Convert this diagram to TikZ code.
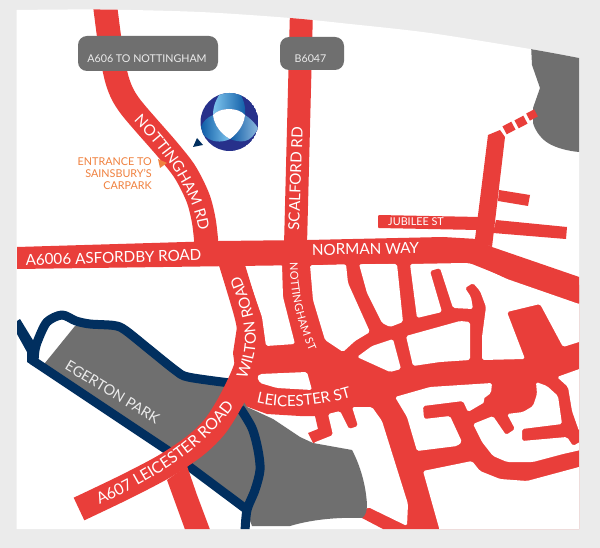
\documentclass[tikz,border=0pt]{standalone}
\usepackage{fontspec}
\setmainfont{Lato}
\usetikzlibrary{decorations.text}
\definecolor{roadred}{HTML}{E93E3A}
\definecolor{parkgrey}{HTML}{6F6F6F}
\definecolor{pagegrey}{HTML}{EBEBEB}
\definecolor{navyline}{HTML}{012F5F}
\definecolor{ringblue}{HTML}{27318B}
\definecolor{entrance}{HTML}{F0813F}
\definecolor{lobedark}{HTML}{0F5CA6}
\definecolor{lobelight}{HTML}{7FC6EE}
\definecolor{lobemid}{HTML}{8DB9DE}
\newcommand{\fsz}[1]{\fontsize{#1}{#1}\selectfont}
\newcommand{\rdfont}{\fsz{15.2}}
\newcommand{\lrfont}{\fsz{15.7}}
\newcommand{\stfont}{\fsz{11}}
\tikzset{
  redfill/.style={fill=roadred},
  hole/.style={fill=white,rounded corners=1.8pt},
  roadstroke/.style={draw=roadred,line width=#1,line join=round},
  navystroke/.style={draw=navyline,line width=9pt,line join=round},
  signbox/.style={fill=parkgrey,rounded corners=9pt},
  signtext/.style={text=pagegrey,font=\fsz{10.7},inner sep=0pt},
  maptext/.style={text=white,font=\rdfont,inner sep=0pt},
  curvetext/.style={decorate,decoration={text along path,text align=center,text color=white,text={#1}}}
}
\begin{document}
\begin{tikzpicture}[x=1pt,y=-1pt]
\useasboundingbox (0,0) rectangle (600,548);
\fill[pagegrey] (0,0) rectangle (600,548);
\begin{scope}
\clip plot[smooth] coordinates {(16.5,10) (100,9.5) (200,12) (290,18) (350,24) (430,33) (530,49) (579,58)} -- (579,529) -- (16.5,529) -- cycle;
\fill[white] (0,0) rectangle (600,548);
% north-east park
\fill[parkgrey] (531,45) -- (532,65) -- (540,88) -- (533,108) -- (533,123) .. controls (536,133) and (543,140) .. (548,143) .. controls (556,148) and (568,151) .. (579,152) -- (585,152) -- (585,45) -- cycle;
% main red network with white holes
\fill[redfill] (220,255) -- (492,255) -- (579,285) -- (579,529) -- (383,529) -- (362,518) -- (340,440) -- (313,443) -- (308,433) -- (318,429) -- (315,416) -- (300,416) -- (267,414) -- (240,404) -- (233,353) -- (237,327) -- (235,307) -- (220,265) -- cycle;
\fill[hole] (244,265) -- (282,264) -- (283,297) -- (295,344) -- (266,346) -- (262,317) -- cycle;
\fill[hole] (310,265) -- (346,264) -- (348,283) -- (370,332) -- (355,341) -- (343,352) -- (325,340) -- (313,300) -- cycle;
\fill[hole] (359,264) -- (397,264) -- (403,322) -- (390,327) -- (382,323) -- (367,293) -- cycle;
\fill[hole] (410,264) -- (465,263) -- (475,264) -- (507,279) -- (579,304) -- (585,304) -- (585,340) -- (579,342) -- (563,347) -- (540,304) -- (507,312) -- (525,359) -- (482,360) -- (482,337) -- (486,307) -- (480,291) -- (473,283) -- (465,288) -- (471,297) -- (473,309) -- (453,308) -- (440,268) -- (430,271) -- (442,312) -- (417,318) -- cycle;
\fill[hole] (357,357) -- (372,346) -- (393,339) -- (401,369) -- (390,372) -- cycle;
\fill[hole] (406,336) -- (460,321) -- (470,322) -- (470,360) -- (440,362) -- (413,366) -- cycle;
\fill[hole] (395,397) -- (430,387) -- (492,383) -- (491,393) -- (483,399) -- (485,402) -- (468,412) -- (463,401) -- (423,406) -- (424,419) -- (450,416) -- (462,442) -- (457,446) -- (417,451) -- (407,417) -- cycle;
\fill[hole] (473,424) -- (493,416) -- (506,435) -- (515,429) -- (507,414) -- (523,412) -- (533,406) -- (537,394) -- (536,382) -- (547,386) -- (558,396) -- (562,424) -- (522,429) -- (522,441) -- (567,437) -- (573,446) -- (585,439) -- (585,449) -- (563,454) -- (533,462) -- (507,462) -- (493,456) -- (482,442) -- cycle;
\fill[hole] (557,377) -- (585,367) -- (585,434) -- (579,431) -- (572,411) -- (568,387) -- cycle;
\fill[hole] (423,471) -- (472,461) -- (480,471) -- (500,479) -- (527,481) -- (579,467) -- (585,465) -- (585,535) -- (441,535) -- cycle;
\fill[hole] (352,407) -- (372,407) -- (382,421) -- (408,504) -- (407,526) -- (368,507) -- (360,515) -- (345,460) -- (313,443) -- (333,435) -- (328,414) -- (340,411) -- (349,429) -- (358,426) -- cycle;
\fill[hole] (257,377) -- (260,374) -- (307,372) -- (312,390) -- (277,388) -- (260,383) -- cycle;
% Egerton park and its railings
\fill[parkgrey] (75,326) -- (114,325) -- (150,350) -- (188,377) -- (232,383) -- (247,407) -- (273,419) -- (300,437) -- (313,443) -- (352,450) .. controls (360,465) and (366,485) .. (367,505) .. controls (367,512) and (365,516) .. (362,518) .. controls (335,517) and (310,520) .. (290,526) -- (252,526) -- (246,510) -- (38,364) -- (45,363) -- cycle;
\draw[navystroke] plot[smooth] coordinates {(34,362) (35,350) (38,340) (47,322) (62,315) (76,321) (90,324) (114,325.5) (125,330) (150,350) (175,370) (188,377) (230,383)};
\draw[navystroke] (32,360) -- (167,450) -- (246,509);
\draw[navystroke] plot[smooth] coordinates {(240,408) (252,428) (258,450) (260,470) (255,490) (247,510) (245,532)};
\fill[navyline] (17,321) -- (20,319) -- (31,337) -- (36,345) -- (38,357) -- (37,368) -- (27,362) -- (27,352) -- (17,334) -- cycle;
% principal roads
\fill[redfill] (17,247) -- (219,241) -- (308,240) -- (443,237) -- (477,239) -- (492,247) -- (585,279) -- (585,305) -- (507,278) -- (467,262) -- (310,265) -- (17,269) -- cycle;
\fill[redfill] (290,10) -- (313,10) -- (307,245) -- (284,245) -- cycle;
\draw[roadstroke=24pt] plot[smooth] coordinates {(105,5) (111,50) (118,83) (130,106) (167,149) (185,172) (198,198) (204,222) (207,250)};
\fill[redfill] (167,480) -- (187,466) -- (197,495) -- (212,535) -- (187,535) -- cycle;
\draw[roadstroke=25pt] plot[smooth] coordinates {(79,509) (125,487) (165,466) (196,445) (216,425) (233,397) (247,365) (250,335) (246,312) (231,262)};
\draw[roadstroke=24pt] plot[smooth] coordinates {(296,260) (298,297) (310,345)};
% north-east streets
\fill[redfill] (488,135) -- (500,130) -- (505,137) -- (492,247) -- (475,239) -- cycle;
\fill[redfill] (499,190) -- (530,195) -- (528,206) -- (498,201) -- cycle;
\fill[redfill] (496,220) -- (567,227) -- (566,239) -- (493,233) -- cycle;
\fill[redfill,rounded corners=1pt] (378,215) -- (480,217) -- (478,230) -- (378,228) -- cycle;
\fill[redfill,rotate around={28:(509,128)}] (504,123.5) rectangle (514,132.5);
\fill[redfill,rotate around={28:(521,122)}] (516,117.5) rectangle (526,126.5);
\fill[redfill,rotate around={28:(532,115)}] (527.5,111) rectangle (536.5,119);
% direction signs
\fill[signbox] (78,36) rectangle (218,71);
\fill[signbox] (280,37) rectangle (344,70);
\node[signtext] (signa) at (147,59) {A606 TO NOTTINGHAM};
\node[signtext] (signb) at (310.5,59) {B6047};
% logo
\fill[navyline] (193,147) -- (203,145) -- (197,138) -- cycle;
\begin{scope}
\clip (229.5,122) circle (29);
\fill[ringblue] (229.5,122) circle (29);
\shade[left color=lobedark,right color=lobelight] (201,127) .. controls (203,121) and (208,117) .. (213,115) .. controls (214,125) and (221,134) .. (230,139) .. controls (222,143) and (210,143) .. (203,134) -- cycle;
\shade[left color=lobedark,right color=lobemid] (245,115) .. controls (250,118) and (255,123) .. (258,128) .. controls (255,135) and (250,140) .. (245,141) .. controls (240,142) and (235,141) .. (230,139) .. controls (238,133) and (244,125) .. (245,115) -- cycle;
\shade[left color=lobelight,right color=lobedark] (213,115) .. controls (213,105) and (217,98) .. (221,92) -- (239,92) .. controls (243,98) and (246,106) .. (245,115) .. controls (238,107) and (220,107) .. (213,115) -- cycle;
\fill[white] (213,115) .. controls (220,107) and (238,107) .. (245,115) .. controls (244,125) and (238,133) .. (230,139) .. controls (221,134) and (214,125) .. (213,115) -- cycle;
\end{scope}
% entrance
\fill[entrance] (158,159) -- (167,163) -- (160,168) -- cycle;
\node[text=entrance,font=\fsz{10.8},align=right,inner sep=0pt,anchor=north east] (entr) at (152,157.5) {ENTRANCE TO\\[1.2pt]SAINSBURY’S\\[1.2pt]CARPARK};
% straight labels
\node[maptext,rotate=1.7] (asford) at (113.5,257.5) {A6006 ASFORDBY ROAD};
\node[maptext,rotate=88] (scalf) at (295.5,178.5) {SCALFORD RD};
\node[maptext,rotate=1] (norman) at (365.5,249) {NORMAN WAY};
\node[maptext,font=\fsz{10.8}] (jubil) at (416,222) {JUBILEE ST};
\node[maptext,rotate=-31,text=pagegrey,font=\fsz{14.5}] (egert) at (112.5,392) {EGERTON PARK};
% curved labels
\path[curvetext={|\rdfont|NOTTINGHAM RD}] (134,121) .. controls (165,153) and (192,190) .. (199,230);
\path[curvetext={|\rdfont|WILTON ROAD}] (245,382) .. controls (262,345) and (258,320) .. (239,273);
\path[curvetext={|\lrfont|A607 LEICESTER ROAD}] (95,507) .. controls (165,475) and (212,440) .. (237,402);
\path[curvetext={|\rdfont|LEICESTER ST}] (254,402) .. controls (285,411) and (325,405) .. (354,396);
\path[curvetext={|\stfont|NOTTINGHAM ST}] (290,264) .. controls (290,295) and (298,325) .. (309,350);
\end{scope}
\end{tikzpicture}
\end{document}
